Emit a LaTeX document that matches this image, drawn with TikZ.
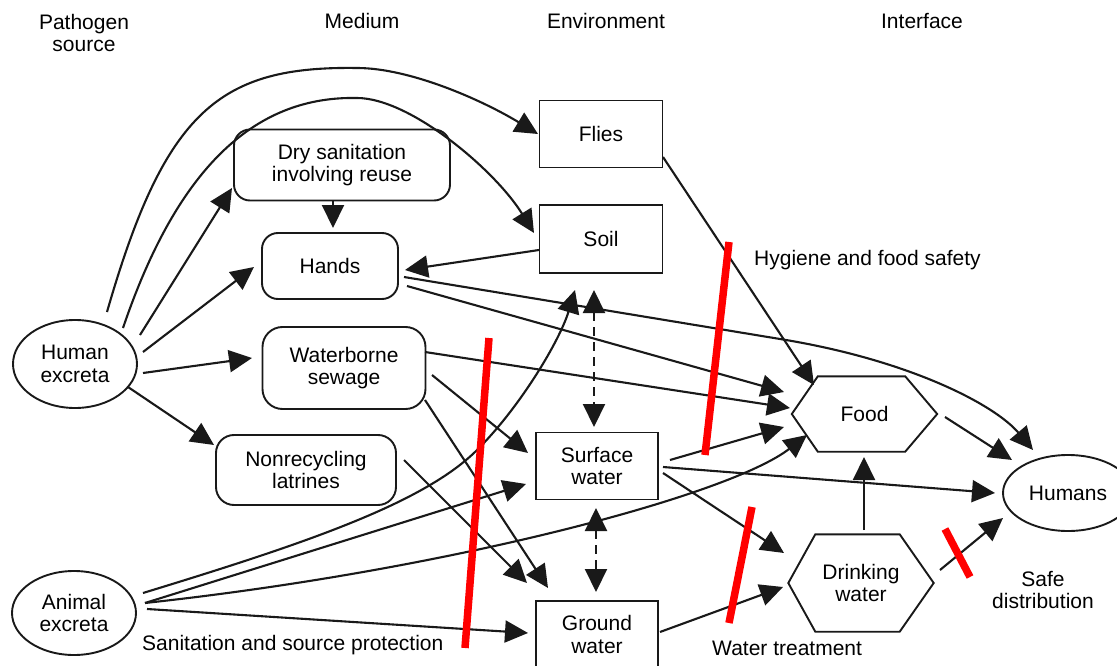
\documentclass[tikz,border=0pt]{standalone}
\usepackage{fontspec}
\setmainfont{Liberation Sans}
\usetikzlibrary{arrows.meta,shapes.geometric}
\begin{document}
\begin{tikzpicture}[x=1pt,y=-1pt, font=\fontsize{21}{22.5}\selectfont,
  ln/.style={line width=2.1pt, draw=black!90},
  arr/.style={ln, -{Triangle[length=23pt,width=22pt]}},
  darr/.style={ln, dash pattern=on 9pt off 6pt, {Triangle[length=23pt,width=22pt]}-{Triangle[length=23pt,width=22pt]}},
  rbox/.style={draw=black!90, line width=1.9pt, rounded corners=16pt, align=center, inner sep=0pt},
  sbox/.style={draw=black!90, line width=1.9pt, align=center, inner sep=0pt},
  ell/.style={draw=black!90, ellipse, line width=1.9pt, align=center, inner sep=0pt},
  hexbox/.style={align=center, inner sep=0pt},
  hexline/.style={draw=black!90, line width=1.9pt, line join=miter},
  lbl/.style={align=center, inner sep=0pt},
  barrier/.style={line width=7.5pt, draw=red}]
\useasboundingbox (0,0) rectangle (1117,666);
\clip (0,0) rectangle (1117,666);

% headers
\node[lbl] (h1) at (84,33) {Pathogen\\source};
\node[lbl] (h2) at (362,21) {Medium};
\node[lbl] (h3) at (606,21) {Environment};
\node[lbl] (h4) at (922,21) {Interface};

% nodes
\node[ell, minimum width=124pt, minimum height=88pt] (he) at (75,364) {Human\\excreta};
\node[ell, minimum width=124pt, minimum height=84pt] (ae) at (74,613) {Animal\\excreta};
\node[rbox, minimum width=216pt, minimum height=71pt] (dry) at (342,165) {Dry sanitation\\involving reuse};
\node[rbox, minimum width=136pt, minimum height=66pt] (hands) at (330,266) {Hands};
\node[rbox, rounded corners=20pt, minimum width=163pt, minimum height=82pt] (wb) at (344,368) {Waterborne\\sewage};
\node[rbox, rounded corners=18pt, minimum width=180pt, minimum height=70pt] (nr) at (306,470) {Nonrecycling\\latrines};
\node[sbox, minimum width=123pt, minimum height=67pt] (flies) at (601,134) {Flies};
\node[sbox, minimum width=123pt, minimum height=68pt] (soil) at (601,239) {Soil};
\node[sbox, minimum width=122pt, minimum height=67pt] (sw) at (597,466) {Surface\\water};
\node[sbox, minimum width=122pt, minimum height=67pt] (gw) at (597,634.5) {Ground\\water};
\node[hexbox, minimum width=145pt, minimum height=75pt] (food) at (864.5,414) {Food};
\node[hexbox, minimum width=145pt, minimum height=97pt] (dw) at (861,583) {Drinking\\water};
\node[ell, minimum width=130pt, minimum height=76pt] (hum) at (1068,493) {Humans};

\draw[hexline] (food.west) -- ([xshift=26pt]food.north west) -- ([xshift=-32pt]food.north east) -- (food.east) -- ([xshift=-32pt]food.south east) -- ([xshift=26pt]food.south west) -- cycle;
\draw[hexline] (dw.west) -- ([xshift=27pt]dw.north west) -- ([xshift=-34pt]dw.north east) -- (dw.east) -- ([xshift=-34pt]dw.south east) -- ([xshift=27pt]dw.south west) -- cycle;

% labels
\node[lbl, anchor=west] (l1) at (754,260) {Hygiene and food safety};
\node[lbl, anchor=west] (l2) at (142,645) {Sanitation and source protection};
\node[lbl, anchor=west] (l3) at (712,648) {Water treatment};
\node[lbl] (l4) at (1043,590) {Safe\\distribution};

% connectors from human excreta
\draw[arr] ([shift={(32,-52)}]he.center) .. controls (165,110) and (220,66) .. (357,68) .. controls (410,68) and (482,100) .. ([shift={(-63,0)}]flies.center);
\draw[arr] ([shift={(48,-36)}]he.center) .. controls (180,160) and (260,96) .. (357,98) .. controls (410,98) and (495,170) .. ([shift={(-67,-6)}]soil.center);
\draw[arr] ([shift={(65,-29)}]he.center) -- ([shift={(-110,23)}]dry.center);
\draw[arr] ([shift={(68,-12)}]he.center) -- ([shift={(-76,1)}]hands.center);
\draw[arr] ([shift={(68,9)}]he.center) -- ([shift={(-92,-10)}]wb.center);
\draw[arr] ([shift={(53,23)}]he.center) -- ([shift={(-92,-25)}]nr.center);

% medium connectors
\draw[arr] ([shift={(-9,35)}]dry.center) -- ([shift={(3,-38)}]hands.center);
\draw[arr] ([shift={(-62,11)}]soil.center) -- ([shift={(75,4)}]hands.center);
\draw[arr] ([shift={(74,11)}]hands.center) -- (780,339) .. controls (910,360) and (995,405) .. ([shift={(-35,-43)}]hum.center);
\draw[arr] ([shift={(77,20)}]hands.center) -- ([shift={(-80.5,-22)}]food.center);
\draw[arr] ([shift={(81,-16)}]wb.center) -- ([shift={(-74.5,-6)}]food.center);
\draw[arr] ([shift={(88,7)}]wb.center) -- ([shift={(-69,-13)}]sw.center);
\draw[arr] ([shift={(81,32)}]wb.center) -- ([shift={(-49,-46.5)}]gw.center);
\draw[arr] ([shift={(98,-10)}]nr.center) -- ([shift={(-70,-51.5)}]gw.center);

% dashed exchanges
\draw[darr] ([shift={(-7,51)}]soil.center) -- ([shift={(-3,-39)}]sw.center);
\draw[darr] ([shift={(-1,42)}]sw.center) -- ([shift={(-1,-42.5)}]gw.center);

% animal excreta
\draw[arr] ([shift={(69,-20)}]ae.center) .. controls (300,545) and (420,505) .. (475,452) .. controls (520,408) and (560,340) .. ([shift={(-26,51)}]soil.center);
\draw[arr] ([shift={(71,-10)}]ae.center) -- ([shift={(-71,18)}]sw.center);
\draw[arr] ([shift={(71,-10)}]ae.center) .. controls (450,570) and (730,495) .. ([shift={(-57.5,21)}]food.center);
\draw[arr] ([shift={(73,-4)}]ae.center) -- ([shift={(-69,-1.5)}]gw.center);

% environment to interface
\draw[arr] ([shift={(62,23)}]flies.center) -- ([shift={(-50.5,-29)}]food.center);
\draw[arr] ([shift={(73,-6)}]sw.center) -- ([shift={(-80.5,13)}]food.center);
\draw[arr] ([shift={(66,1)}]sw.center) -- ([shift={(-73,0)}]hum.center);
\draw[arr] ([shift={(66,7)}]sw.center) -- ([shift={(-77,-30)}]dw.center);
\draw[arr] ([shift={(63,-2.5)}]gw.center) -- ([shift={(-78,4)}]dw.center);
\draw[arr] ([shift={(3,-53)}]dw.center) -- ([shift={(-0.5,43)}]food.center);
\draw[arr] ([shift={(80.5,3)}]food.center) -- ([shift={(-56,-33)}]hum.center);
\draw[arr] ([shift={(79,-13)}]dw.center) -- ([shift={(-65,25)}]hum.center);

% barriers
\draw[barrier] (489,338) -- (465,648);
\draw[barrier] (729,242) -- (705,455);
\draw[barrier] (752,507) -- (729,623);
\draw[barrier] (945,529) -- (970,577);
\end{tikzpicture}
\end{document}
